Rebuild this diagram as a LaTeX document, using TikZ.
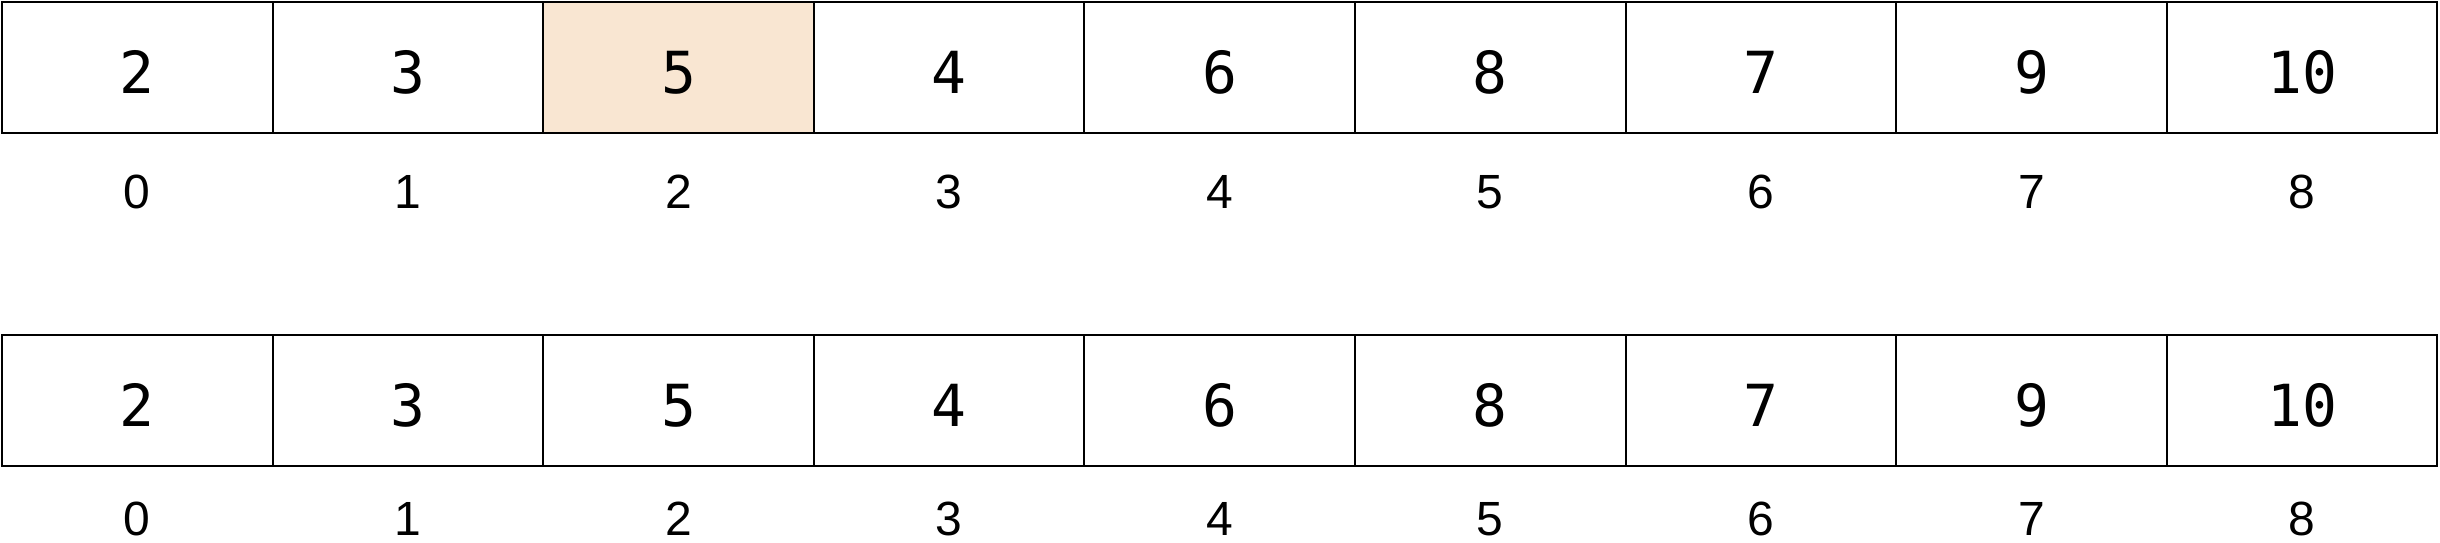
\documentclass[tikz,border=0pt]{standalone}
\usepackage{fontspec}
\newfontfamily\valfont{DejaVu Sans Mono}
\newfontfamily\idxfont{Liberation Sans}
\definecolor{peach}{RGB}{249,230,210}
\tikzset{
  cell/.style={draw=black, line width=1pt, minimum width=135.3pt, minimum height=65.5pt,
    inner sep=0pt, outer sep=0pt, font=\valfont\fontsize{29}{30}\selectfont,
    text height=25.5pt, text depth=0pt},
  idx/.style={anchor=base, inner sep=0pt, font=\idxfont\fontsize{24}{25}\selectfont}
}
\begin{document}
\begin{tikzpicture}[x=0.5pt,y=-0.5pt]
\useasboundingbox (0,0) rectangle (2440,542);
\foreach \v/\f [count=\i from 0] in {2/white,3/white,5/peach,4/white,6/white,8/white,7/white,9/white,10/white}{
  \node[cell, fill=\f] (a\i) at ({137.3+270.6*\i},67.5) {\v};
  \node[idx] (ia\i) at ({137.3+270.6*\i},208) {\i};
}
\foreach \v [count=\i from 0] in {2,3,5,4,6,8,7,9,10}{
  \node[cell, fill=white] (b\i) at ({137.3+270.6*\i},400.5) {\v};
  \node[idx] (ib\i) at ({137.3+270.6*\i},535) {\i};
}
\end{tikzpicture}
\end{document}
